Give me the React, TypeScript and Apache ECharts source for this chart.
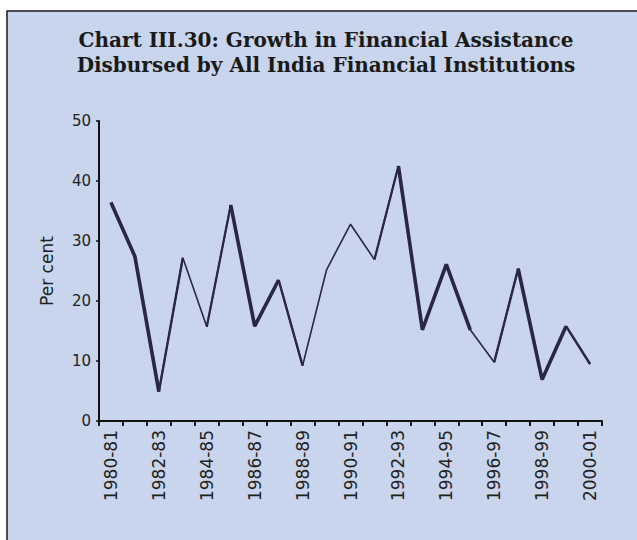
import React, { useEffect, useRef } from "react";
import * as echarts from "echarts";

const categories = [
  "1980-81", "1981-82", "1982-83", "1983-84", "1984-85", "1985-86", "1986-87",
  "1987-88", "1988-89", "1989-90", "1990-91", "1991-92", "1992-93", "1993-94",
  "1994-95", "1995-96", "1996-97", "1997-98", "1998-99", "1999-00", "2000-01",
];
const growth = [
  36.4, 27.4, 4.9, 27.2, 15.7, 36.0, 15.8, 23.5, 9.2, 25.2, 32.8,
  26.9, 42.5, 15.2, 26.1, 15.2, 9.8, 25.4, 6.9, 15.8, 9.5,
];
const yTicks = [0, 10, 20, 30, 40, 50];
// indices of points belonging to the heavier stroke runs
const thickIdx = [0, 1, 2, 5, 6, 7, 12, 13, 14, 15, 17, 18, 19];
const mediumIdxA = [2, 3, 7, 8, 16, 17, 19, 20];
const mediumIdxB = [4, 5, 11, 12];

const mask = (idx: number[]) => growth.map((v, i) => (idx.includes(i) ? v : null));

export default function App() {
  const ref = useRef<HTMLDivElement>(null);
  useEffect(() => {
    const chart = echarts.init(ref.current!, undefined, { renderer: "svg" });
    const lineColor = "#2b2548";
    const base = {
      type: "line",
      symbol: "none",
      connectNulls: false,
      silent: true,
    };
    const sans = "'DejaVu Sans', 'Liberation Sans', sans-serif";
    chart.setOption({
      animation: false,
      backgroundColor: "#ffffff",
      graphic: [
        {
          type: "rect",
          z: -10,
          shape: { x: 7, y: 11, width: 640, height: 540 },
          style: { fill: "#c8d5ec", stroke: "#1a1a1a", lineWidth: 1.5 },
        },
        {
          type: "text",
          x: 326,
          y: 27,
          style: {
            text: "Chart III.30: Growth in Financial Assistance\nDisbursed by All India Financial Institutions",
            font: "bold 20px 'DejaVu Serif'",
            fill: "#1a1a1a",
            align: "center",
            verticalAlign: "top",
            lineHeight: 25,
          },
        },
      ],
      grid: { left: 99, top: 121, right: 35, bottom: 119, containLabel: false },
      xAxis: {
        type: "category",
        data: categories,
        boundaryGap: true,
        axisLine: { lineStyle: { color: "#111", width: 2 } },
        axisTick: { show: true, interval: 0, length: 5, lineStyle: { color: "#111", width: 2 } },
        axisLabel: {
          interval: 1,
          rotate: 90,
          margin: 9,
          fontFamily: sans,
          fontSize: 17,
          color: "#222",
        },
      },
      yAxis: {
        type: "value",
        min: yTicks[0],
        max: yTicks[yTicks.length - 1],
        interval: 10,
        name: "Per cent",
        nameLocation: "middle",
        nameGap: 44,
        nameTextStyle: { fontFamily: sans, fontSize: 17, color: "#222" },
        splitLine: { show: false },
        axisLine: { show: true, lineStyle: { color: "#111", width: 2 } },
        axisTick: { show: true, length: 3, lineStyle: { color: "#111", width: 1.5 } },
        axisLabel: {
          margin: 8,
          fontFamily: sans,
          fontSize: 15,
          color: "#222",
        },
      },
      series: [
        { ...base, name: "Growth", data: growth, lineStyle: { color: lineColor, width: 1.6 } },
        { ...base, name: "mA", data: mask(mediumIdxA), lineStyle: { color: lineColor, width: 2.4 } },
        { ...base, name: "mB", data: mask(mediumIdxB), lineStyle: { color: lineColor, width: 2.2 } },
        { ...base, name: "thick", data: mask(thickIdx), lineStyle: { color: lineColor, width: 3.6 } },
      ],
    });
    return () => chart.dispose();
  }, []);
  return (
    <div
      ref={ref}
      style={{ position: "absolute", left: 0, top: 0, width: 637, height: 540 }}
    />
  );
}
